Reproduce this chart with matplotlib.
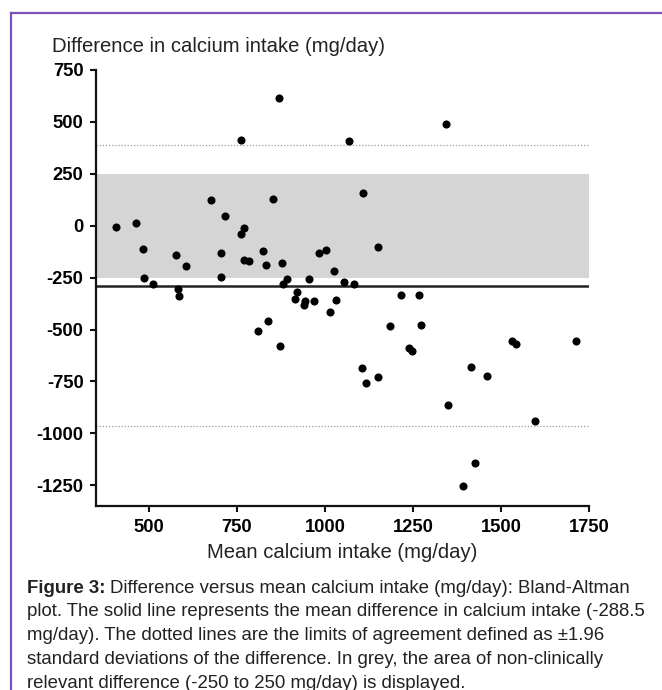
import matplotlib
matplotlib.use("Agg")
import matplotlib.pyplot as plt
from matplotlib.lines import Line2D

plt.rcParams['font.family'] = ['Liberation Sans', 'DejaVu Sans']
plt.rcParams['axes.unicode_minus'] = False

# ---- data ----
mean_intake = [406, 463, 484, 487, 512, 576, 605, 582, 586, 677,
               715, 704, 705, 761, 763, 770, 771, 784, 824, 832,
               853, 870, 877, 880, 893, 922, 915, 944, 942, 969,
               955, 983, 1002, 1027, 1031, 1015, 811, 839, 872, 1054,
               1082, 1069, 1109, 1150, 1217, 1267, 1185, 1272, 1238, 1247,
               1106, 1117, 1152, 1344, 1351, 1391, 1426, 1416, 1461, 1532,
               1542, 1596, 1713]
diff_intake = [-8, 11, -112, -254, -280, -140, -194, -305, -337, 122,
               47, -133, -246, 413, -40, -13, -165, -169, -122, -187,
               130, 615, -178, -282, -257, -318, -353, -364, -383, -361,
               -255, -130, -117, -217, -357, -414, -506, -461, -578, -271,
               -280, 410, 159, -103, -336, -336, -485, -479, -591, -604,
               -686, -757, -728, 492, -864, -1256, -1144, -681, -723, -554,
               -572, -941, -554]
mean_diff = -288.5
upper_loa = 389
lower_loa = -966
band_low, band_high = -250, 250
x_ticks = [500, 750, 1000, 1250, 1500, 1750]
y_ticks = [-1250, -1000, -750, -500, -250, 0, 250, 500, 750]

W, H = 662, 690
fig = plt.figure(figsize=(W / 100, H / 100), dpi=100)

# purple frame (top and left edges visible)
fig.add_artist(Line2D([11 / W, 1.0], [1 - 12.5 / H, 1 - 12.5 / H],
                      transform=fig.transFigure, color='#7B52B9', lw=1.6))
fig.add_artist(Line2D([11 / W, 11 / W], [0, 1 - 12.5 / H],
                      transform=fig.transFigure, color='#7B52B9', lw=1.6))

ax = fig.add_axes([96 / W, 1 - 506 / H, (589 - 96) / W, (506 - 70) / H])
ax.set_xlim(350, 1750)
ax.set_ylim(-1350, 750)

ax.axhspan(band_low, band_high, color='#D5D5D5', lw=0, zorder=1)
ax.axhline(mean_diff, color='#222222', lw=1.8, zorder=2)
for v in (upper_loa, lower_loa):
    ax.axhline(v, color='#9a9a9a', lw=0.9, ls=(0, (1, 1.5)), zorder=2)

ax.scatter(mean_intake, diff_intake, s=34, color='black', lw=0, zorder=3)

for s in ('top', 'right'):
    ax.spines[s].set_visible(False)
for s in ('left', 'bottom'):
    ax.spines[s].set_linewidth(1.6)
    ax.spines[s].set_color('#111111')

ax.set_xticks(x_ticks)
ax.set_yticks(y_ticks)
ax.tick_params(axis='both', direction='out', length=4.5, width=1.5,
               color='#111111', pad=4.5, labelsize=13.2)
for lab in ax.get_xticklabels() + ax.get_yticklabels():
    lab.set_fontweight('bold')

fig.text(52 / W, 1 - 46 / H, 'Difference in calcium intake (mg/day)',
         fontsize=14.6, ha='left', va='center', color='#222222')
fig.text(342 / W, 1 - 552 / H, 'Mean calcium intake (mg/day)',
         fontsize=14.6, ha='center', va='center', color='#222222')

# caption
cap_fs = 13.4
x0 = 27 / W
baselines = [593, 616.5, 640, 664, 687.5]
t_bold = fig.text(x0, 1 - baselines[0] / H, 'Figure 3:', fontsize=cap_fs,
                  fontweight='bold', ha='left', va='baseline', color='#222222')
renderer = fig.canvas.get_renderer()
bb = t_bold.get_window_extent(renderer)
fig.text(bb.x1 / W + 4 / W, 1 - baselines[0] / H,
         'Difference versus mean calcium intake (mg/day): Bland-Altman',
         fontsize=cap_fs, ha='left', va='baseline', color='#222222')
lines = ['plot. The solid line represents the mean difference in calcium intake (-288.5',
         'mg/day). The dotted lines are the limits of agreement defined as \u00b11.96',
         'standard deviations of the difference. In grey, the area of non-clinically',
         'relevant difference (-250 to 250 mg/day) is displayed.']
for ln, b in zip(lines, baselines[1:]):
    fig.text(x0, 1 - b / H, ln, fontsize=cap_fs, ha='left', va='baseline',
             color='#222222')

fig.savefig('out.png', dpi=100)
